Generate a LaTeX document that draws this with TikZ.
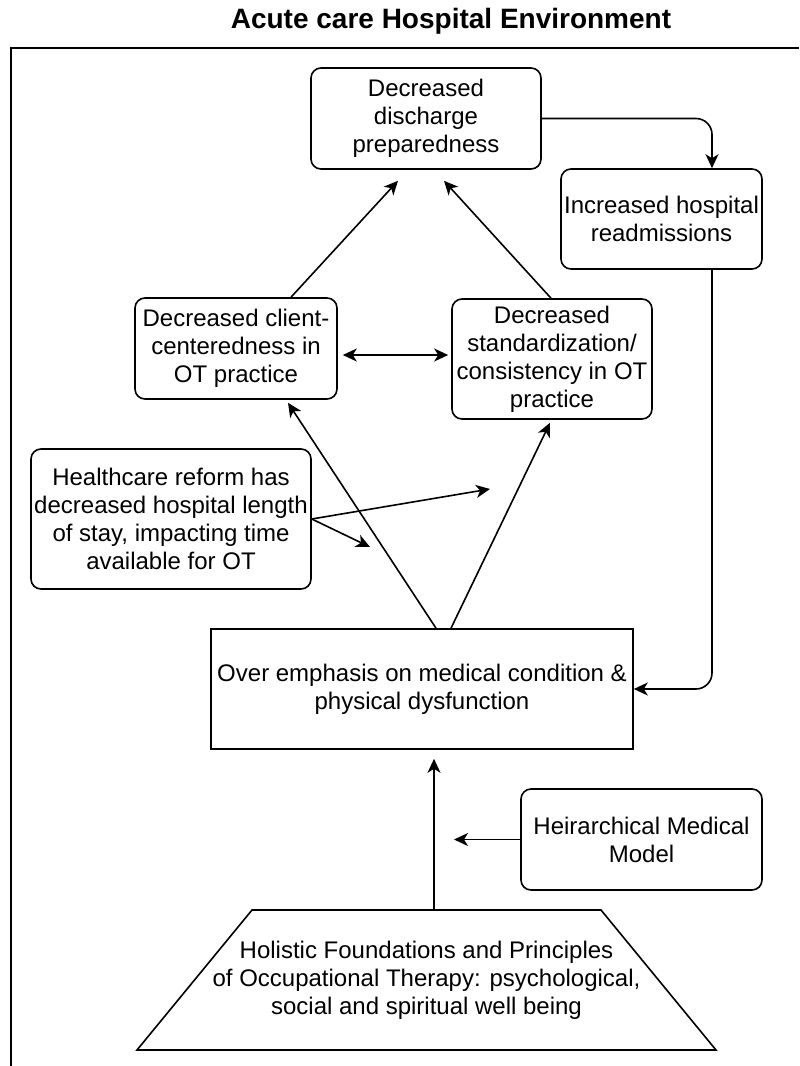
\documentclass[tikz,border=0pt]{standalone}
\usepackage{fontspec}
\setmainfont{Liberation Sans}
\usetikzlibrary{arrows.meta, positioning, calc}

\begin{document}
\begin{tikzpicture}[
    x=0.5pt, y=-0.5pt,
    >={Stealth[length=7pt, width=6.5pt, inset=2pt]},
    font=\fontsize{12}{14}\selectfont,
    box/.style = {draw, rectangle, rounded corners=5pt, align=center, inner sep=1pt, line width=0.8pt},
    plainbox/.style = {draw, rectangle, align=center, inner sep=1pt, line width=0.8pt},
    arrow/.style = {->, line width=0.8pt}
]
\useasboundingbox (0,0) rectangle (799,1066);

% =========================================================
% TITLE AND ENVIRONMENT FRAME
% =========================================================
\node[font=\fontsize{14}{16}\selectfont\bfseries, anchor=base] (title) at (451,28) {Acute care Hospital Environment};
\draw[line width=0.8pt] (11,1066) |- (799,48);

% =========================================================
% OUTCOMES (top)
% =========================================================
\node[box, minimum width=115pt, minimum height=50.5pt] (discharge) at (426,118.5) {Decreased\\discharge\\preparedness};
\node[box, minimum width=100.5pt, minimum height=50pt] (readmit) at (661.5,219) {Increased hospital\\readmissions};

% Practice effects
\node[box, minimum width=101pt, minimum height=50.5pt] (client) at (236,348.5) {Decreased client-\\centeredness in\\OT practice};
\node[box, minimum width=100pt, minimum height=60pt] (standard) at (552,359) {Decreased\\standardization/\\consistency in OT\\practice};

% Time constraint
\node[box, minimum width=140pt, minimum height=70pt] (reform) at (171,519) {Healthcare reform has\\decreased hospital length\\of stay, impacting time\\available for OT};

% =========================================================
% CORE PROBLEM AND ITS CAUSES
% =========================================================
\node[plainbox, minimum width=211pt, minimum height=60pt] (emphasis) at (422,689) {Over emphasis on medical condition \&\\physical dysfunction};
\node[box, minimum width=120.5pt, minimum height=50.5pt] (hier) at (641.5,839.5) {Heirarchical Medical\\Model};

% Foundations (trapezoid)
\draw[line width=0.8pt] (137,1050) -- (252,910) -- (601,910) -- (716,1050) -- cycle;
\node[align=center, inner sep=0pt] (holistic) at (426.5,980) {Holistic Foundations and Principles\\of Occupational Therapy: psychological,\\social and spiritual well being};

% free ends
\coordinate (rtop) at ($(readmit.north)+(50.5,0)$);
\coordinate (rbot) at ($(readmit.south)+(50.5,0)$);
\coordinate (rf1) at (490,489);
\coordinate (rf2) at (370,547);
\coordinate (hiertip) at (454,839.5);
\coordinate (holtop) at (434,910);

% =========================================================
% WIRING
% =========================================================
\draw[arrow, rounded corners=8pt] (discharge.east) -| (rtop);
\draw[arrow, rounded corners=8pt] (rbot) |- (emphasis.east);

\draw[arrow] ($(client.north)+(55,0)$) -- ($(discharge.south)+(-28,11)$);
\draw[arrow] ($(standard.north)+(-1,0)$) -- ($(discharge.south)+(18,11)$);
\draw[arrow, <->] ($(client.east)+(5,6.5)$) -- ($(standard.west)+(-3,-4)$);

\draw[arrow] ($(emphasis.north)+(14,0)$) -- ($(client.south)+(52,3)$);
\draw[arrow] ($(emphasis.north)+(29,0)$) -- ($(standard.south)+(-2,3)$);

\draw[arrow] (reform.east) -- (rf1);
\draw[arrow] (reform.east) -- (rf2);

\draw[arrow] (hier.west) -- (hiertip);
\draw[arrow] (holtop) -- ($(emphasis.south)+(12,9)$);

\end{tikzpicture}
\end{document}
